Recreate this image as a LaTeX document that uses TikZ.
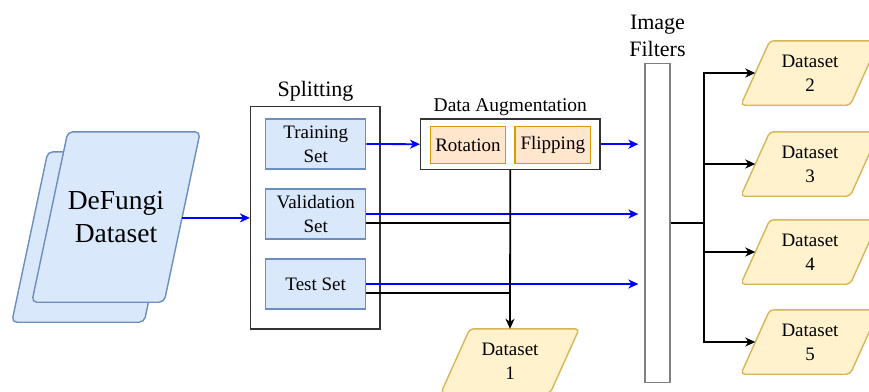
\documentclass[tikz,border=0pt]{standalone}
\usepackage{fontspec}
\setmainfont{Liberation Serif}
\newfontfamily\labelfont{Liberation Serif}
\usetikzlibrary{arrows.meta,backgrounds}
\definecolor{bluefill}{HTML}{DAE8FC}
\definecolor{blueline}{HTML}{6C8EBF}
\definecolor{orangefill}{HTML}{FFE6CC}
\definecolor{orangeline}{HTML}{D79B00}
\definecolor{yellowfill}{HTML}{FFF2CC}
\definecolor{yellowline}{HTML}{D6B656}
\definecolor{flow}{HTML}{0000FF}
\definecolor{frame}{HTML}{333333}
\definecolor{filterframe}{HTML}{808080}
\begin{document}
\begin{tikzpicture}[x=1pt,y=-1pt,
  txt/.style={font=\labelfont\fontsize{19}{24}\selectfont, align=center},
  bigtxt/.style={font=\labelfont\fontsize{27.5}{32.5}\selectfont, align=center},
  headtxt/.style={font=\labelfont\fontsize{22}{27}\selectfont, align=center, inner sep=0pt},
  setbox/.style={draw=blueline, fill=bluefill, line width=1.2pt, minimum width=100pt, minimum height=50pt, inner sep=0pt, txt},
  augbox/.style={draw=orangeline, fill=orangefill, line width=1.2pt, minimum width=75.5pt, minimum height=36.6pt, inner sep=0pt, txt},
  groupbox/.style={draw=#1, line width=1.3pt, inner sep=0pt, fill=white},
  dsnode/.style={minimum width=138pt, minimum height=64pt, inner sep=0pt, txt},
  srcnode/.style={minimum width=168pt, minimum height=170pt, inner sep=0pt, bigtxt},
  dsshape/.style={draw=yellowline, fill=yellowfill, line width=1.4pt, rounded corners=4pt},
  srcshape/.style={draw=blueline, fill=bluefill, line width=1.4pt, rounded corners=5pt},
  tip/.style={-{Stealth[length=10pt,width=9pt,inset=3pt]}},
  flowline/.style={draw=flow, line width=1.8pt, tip},
  blackline/.style={draw=black, line width=1.8pt},
  blackarrow/.style={blackline, tip},
]
\useasboundingbox (0,0) rectangle (869,391);
\clip (0,0) rectangle (869,391);

% source dataset (two stacked sheets)
\node[srcnode] (srcback) at (96,237) {};
\node[srcnode] (src) at (116,217) {DeFungi\\Dataset};

% splitting stage
\node[groupbox=frame, minimum width=129.5pt, minimum height=222.3pt] (split) at (315.3,217.9) {};
\node[headtxt, anchor=base] (splitlbl) at (315.5,96.7) {Splitting};
\node[setbox] (train) at (315.7,144) {Training\\Set};
\node[setbox] (valid) at (315.7,214) {Validation\\Set};
\node[setbox] (test) at (315.7,284) {Test Set};

% augmentation stage
\node[groupbox=frame, minimum width=179.3pt, minimum height=50.3pt] (aug) at (510.3,144.2) {};
\node[txt, font=\labelfont\fontsize{19.5}{24}\selectfont, anchor=base, inner sep=0pt] (auglbl) at (510.3,111.5) {Data Augmentation};
\node[augbox] (rot) at (468,145) {Rotation};
\node[augbox] (flip) at (552.8,145) {Flipping};

% image filters stage
\node[groupbox=filterframe, minimum width=25pt, minimum height=319pt] (filters) at (657.5,223) {};
\node[headtxt] (filtlbl) at (657.5,35.5) {Image\\Filters};

% output datasets
\node[dsnode] (ds1) at (510,361) {Dataset\\1};
\node[dsnode] (ds2) at (810,73) {Dataset\\2};
\node[dsnode] (ds3) at (810,164) {Dataset\\3};
\node[dsnode] (ds4) at (810,252) {Dataset\\4};
\node[dsnode] (ds5) at (810,342) {Dataset\\5};

\begin{scope}[on background layer]
  \foreach \n in {srcback,src}
    \path[srcshape] (\n.south west) -- ([xshift=36pt]\n.north west) -- (\n.north east) -- ([xshift=-36pt]\n.south east) -- cycle;
  \foreach \n in {ds1,ds2,ds3,ds4,ds5}
    \path[dsshape] (\n.south west) -- ([xshift=29pt]\n.north west) -- (\n.north east) -- ([xshift=-29pt]\n.south east) -- cycle;
\end{scope}

% blue data flow
\draw[flowline] ([xshift=-18pt]src.east |- split.west) -- (split.west);
\draw[flowline] (train.east) -- (aug.west);
\draw[flowline, shorten >=6pt] (aug.east) -- (aug.east -| filters.west);
\draw[flowline, shorten >=6pt] (valid.east) -- (valid.east -| filters.west);
\draw[flowline, shorten >=6pt] (test.east) -- (test.east -| filters.west);

% black flow to dataset 1
\draw[blackarrow] (aug.south) -- (ds1.north);
\draw[blackline] ([yshift=-9pt]valid.east) -- ([yshift=-9pt]valid.east -| aug.south);
\draw[blackline] ([yshift=-9pt]test.east) -- ([yshift=-9pt]test.east -| aug.south);

% fan-out after the filters
\coordinate (hub) at (704.3,223);
\foreach \n in {ds2,ds3,ds4,ds5}
  \draw[blackarrow] (filters.east) -- (hub) |- ([xshift=14.5pt]\n.west);
\end{tikzpicture}
\end{document}
